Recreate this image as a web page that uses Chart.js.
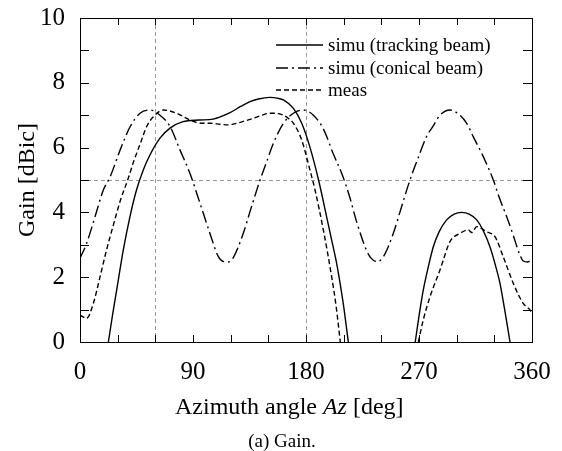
<!DOCTYPE html>
<html>
<head>
<meta charset="utf-8">
<script src="https://cdn.jsdelivr.net/npm/chart.js@4.4.0/dist/chart.umd.min.js"></script>
<style>
  html, body { margin: 0; padding: 0; background: #fff; }
  #wrap { width: 562px; height: 451px; }
</style>
</head>
<body>
<div id="wrap"><canvas id="gainChart" width="562" height="451"></canvas></div>
<script>
const FONT = "'Liberation Serif', 'Times New Roman', serif";

// x tick labels shown on the azimuth axis
const xTickLabels = [0, 90, 180, 270, 360];
const yTickLabels = [0, 2, 4, 6, 8, 10];

// simu (tracking beam) - two lobes, null splits them
const trackAz   = [22.6, 26, 29.2, 34.5, 39.8, 45, 50.4, 55.7, 63.7, 71.7, 82, 95, 106, 119.5, 128, 135.4, 142, 151, 158, 162, 170, 176.6, 183, 190, 196.4, 200, 204.4, 207, 210, 213.7,
                   240,
                   267, 270, 273.4, 277, 281.4, 286, 292, 298, 304, 310, 316, 321, 326.5, 331, 334.5, 338, 342.5];
const trackGain = [0, 0.85, 1.6, 2.84, 3.87, 4.69, 5.31, 5.77, 6.29, 6.6, 6.8, 6.85, 6.88, 7.08, 7.27, 7.42, 7.5, 7.55, 7.52, 7.47, 7.21, 6.75, 6.03, 5.0, 3.87, 3.22, 2.43, 1.85, 1.1, 0,
                   null,
                   0, 0.8, 1.6, 2.25, 2.94, 3.4, 3.77, 3.95, 4.0, 3.95, 3.77, 3.45, 2.94, 2.35, 1.81, 1.05, 0];

// simu (conical beam)
const conAz   = [0, 5.3, 12, 18.6, 24, 32, 40, 47.8, 55.7, 63.7, 71.7, 79.6, 87.6, 95.6, 103.5, 110, 114.5, 118, 122, 130, 136, 143.4, 149, 154, 162, 170, 177.9,
                 185.9, 193.8, 201.8, 209, 215, 220.4, 228.3, 232, 236.3, 241.6, 249.5, 256, 262.8, 269, 276, 281, 286.7, 294.7, 302.6, 308, 313.2, 321.2,
                 329.2, 334, 339.8, 345, 350, 353, 356.5, 360];
const conGain = [2.58, 3.05, 3.87, 4.69, 5.1, 5.93, 6.65, 7.06, 7.16, 7.0, 6.65, 5.93, 5.2, 4.28, 3.35, 2.65, 2.48, 2.47, 2.6, 3.35, 4.1, 5.0, 5.6, 6.13, 6.75, 7.06, 7.16,
                 7.0, 6.58, 5.8, 5.15, 4.45, 3.7, 2.82, 2.58, 2.48, 2.63, 3.35, 4.16, 5.0, 5.65, 6.34, 6.65, 7.0, 7.16, 7.0, 6.75, 6.34, 5.72,
                 5.0, 4.45, 3.87, 3.3, 2.72, 2.5, 2.47, 2.55];

// meas
const measAz   = [0, 5.3, 10.6, 15.9, 21.2, 26.5, 32, 38, 43, 47.8, 53.1, 58.4, 66.4, 77, 87.6, 98.2, 104, 111.5, 118, 125, 131, 138, 145, 151.3, 158, 162, 166, 170,
                  176.6, 183.2, 187.2, 193.8, 200.5, 204, 207.3,
                  240,
                  269.5, 273.4, 278.8, 286.7, 294.7, 302.6, 309.3, 312, 316, 323.9, 330.5, 337.1, 345.1, 353, 358.4, 360];
const measGain = [0.83, 0.73, 1.19, 2.0, 2.85, 3.6, 4.35, 5.0, 5.6, 6.1, 6.65, 6.95, 7.16, 7.06, 6.85, 6.75, 6.75, 6.72, 6.7, 6.75, 6.82, 6.9, 7.0, 7.06, 7.05, 7.0, 6.9, 6.75,
                  6.23, 5.3, 4.69, 3.46, 2.0, 1.1, 0,
                  null,
                  0, 0.68, 1.4, 2.22, 3.1, 3.35, 3.46, 3.38, 3.56, 3.4, 3.25, 2.63, 1.81, 1.19, 0.99, 0.9];

const seriesNames = ['simu (tracking beam)', 'simu (conical beam)', 'meas'];
const guideAz = [60, 180];
const guideGain = [5];

function toPoints(xs, ys) {
    return xs.map(function (x, i) { return { x: x, y: ys[i] }; });
}

const DASHDOT = [12, 4, 2, 4];
const DASHED = [5, 3];

const data = {
    datasets: [
        {
            label: seriesNames[0],
            data: toPoints(trackAz, trackGain),
            borderColor: '#000',
            borderWidth: 1.4,
            borderDash: [],
            cubicInterpolationMode: 'monotone',
        },
        {
            label: seriesNames[1],
            data: toPoints(conAz, conGain),
            borderColor: '#000',
            borderWidth: 1.4,
            borderDash: DASHDOT,
            cubicInterpolationMode: 'monotone',
        },
        {
            label: seriesNames[2],
            data: toPoints(measAz, measGain),
            borderColor: '#000',
            borderWidth: 1.4,
            borderDash: DASHED,
            cubicInterpolationMode: 'monotone',
        }
    ]
};

// frame, inward ticks, legend, x title and caption
const decoPlugin = {
    id: 'deco',
    afterDatasetsDraw(chart) {
        const ctx = chart.ctx;
        const a = chart.chartArea;
        const xs = chart.scales.x;
        const ys = chart.scales.y;
        ctx.save();
        ctx.strokeStyle = '#000';
        ctx.lineWidth = 1;
        ctx.setLineDash([]);
        ctx.strokeRect(Math.round(a.left) + 0.5, Math.round(a.top) + 0.5, Math.round(a.right - a.left), Math.round(a.bottom - a.top));

        ctx.beginPath();
        for (let v = 30; v < 360; v += 30) {
            const px = Math.round(xs.getPixelForValue(v)) + 0.5;
            ctx.moveTo(px, a.bottom); ctx.lineTo(px, a.bottom - 7);
            ctx.moveTo(px, a.top); ctx.lineTo(px, a.top + 7);
        }
        for (let v = 1; v < 10; v++) {
            const py = Math.round(ys.getPixelForValue(v)) + 0.5;
            ctx.moveTo(a.left, py); ctx.lineTo(a.left + 9, py);
            ctx.moveTo(a.right, py); ctx.lineTo(a.right - 9, py);
        }
        ctx.stroke();

        // legend
        const rows = [45, 68, 90];
        ctx.font = '19px ' + FONT;
        ctx.fillStyle = '#000';
        ctx.textBaseline = 'middle';
        ctx.textAlign = 'left';
        for (let i = 0; i < 3; i++) {
            const ds = chart.data.datasets[i];
            ctx.beginPath();
            ctx.lineWidth = 1.4;
            ctx.setLineDash(ds.borderDash);
            ctx.moveTo(276, rows[i]);
            ctx.lineTo(323, rows[i]);
            ctx.stroke();
            ctx.setLineDash([]);
            ctx.fillText(ds.label, 328, rows[i] + 1);
        }

        // x axis title with italic Az
        ctx.textBaseline = 'alphabetic';
        let x = 175;
        const by = 414;
        const parts = [['Azimuth angle ', ''], ['Az', 'italic '], [' [deg]', '']];
        parts.forEach(function (p) {
            ctx.font = p[1] + '24px ' + FONT;
            ctx.fillText(p[0], x, by);
            x += ctx.measureText(p[0]).width;
        });

        ctx.font = '19px ' + FONT;
        ctx.textAlign = 'center';
        ctx.fillText('(a) Gain.', 282, 447);
        ctx.restore();
    }
};

const config = {
    type: 'line',
    data: data,
    options: {
        responsive: false,
        animation: false,
        elements: { point: { radius: 0 } },
        spanGaps: false,
        layout: { autoPadding: false, padding: { top: 18, right: 30, left: 0, bottom: 0 } },
        plugins: {
            legend: { display: false },
            tooltip: { enabled: false },
            title: { display: false }
        },
        scales: {
            x: {
                type: 'linear',
                min: 0,
                max: 360,
                afterFit: function (s) { s.height = 109; s.paddingLeft = 0; s.paddingRight = 0; },
                ticks: {
                    stepSize: 30,
                    color: '#000',
                    font: { family: FONT, size: 25 },
                    padding: 15,
                    maxRotation: 0,
                    autoSkip: false,
                    callback: function (v) { return xTickLabels.includes(v) ? v : ''; }
                },
                grid: {
                    drawTicks: false,
                    color: function (c) { return guideAz.includes(c.tick.value) ? '#999' : 'rgba(0,0,0,0)'; },
                    lineWidth: 1
                },
                border: { display: false, dash: [4, 3] }
            },
            y: {
                min: 0,
                max: 10,
                afterFit: function (s) { s.width = 80; s.paddingTop = 0; s.paddingBottom = 0; },
                title: {
                    display: true,
                    text: 'Gain [dBic]',
                    color: '#000',
                    font: { family: FONT, size: 24 },
                    padding: { top: 13, bottom: 0 }
                },
                ticks: {
                    stepSize: 1,
                    color: '#000',
                    font: { family: FONT, size: 25 },
                    padding: 15,
                    autoSkip: false,
                    callback: function (v) { return yTickLabels.includes(v) ? v : ''; }
                },
                grid: {
                    drawTicks: false,
                    color: function (c) { return guideGain.includes(c.tick.value) ? '#999' : 'rgba(0,0,0,0)'; },
                    lineWidth: 1
                },
                border: { display: false, dash: [4, 3] }
            }
        }
    },
    plugins: [decoPlugin]
};

new Chart(document.getElementById('gainChart'), config);
</script>
</body>
</html>
